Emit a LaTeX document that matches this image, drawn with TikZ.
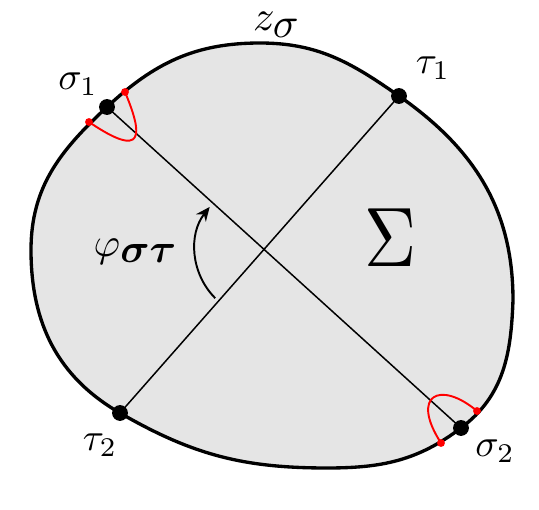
\documentclass[tikz,border=0pt]{standalone}
\usepackage{amsmath,amssymb}
\usepackage{bm}
\usetikzlibrary{arrows.meta,calc}

\tikzset{
  bdot/.style={circle,fill=black,inner sep=0pt,minimum size=9pt},
  rdot/.style={circle,fill=red,inner sep=0pt,minimum size=4.5pt},
  lbl/.style={inner sep=0pt,scale=2.2},
}

\begin{document}
\begin{tikzpicture}[x=0.02cm,y=-0.02cm]
        \useasboundingbox (0,0) rectangle (539,510);
        % the surface
        \draw[line width=1.9pt,fill=black!10] (260,43) to[out=0,in=145] (399,96)
            to[out=-35,in=90] (513,300) to[out=-92,in=37] (461,428)
            to[out=217,in=0] (327,468) to[out=180,in=-30] (120,413)
            to[out=150,in=-90] (31,250) to[out=90,in=-137] (107,107)
            to[out=43,in=180] cycle;

        \node[bdot] (S1) at (107,107) {};
        \node[bdot] (T1) at (399,96) {};
        \node[bdot] (T2) at (120,413) {};
        \node[bdot] (S2) at (461,428) {};
        \node[lbl] (LS1) at (78,84) {$\sigma_1$};
        \node[lbl] (LT1) at (433,68) {$\tau_1$};
        \node[lbl] (LT2) at (100,445) {$\tau_2$};
        \node[lbl] (LS2) at (495,451) {$\sigma_2$};

        \draw[line width=0.85pt] (S1.center) -- (S2.center);
        \draw[line width=0.85pt] (T1.center) -- (T2.center);
        \coordinate (C) at (intersection of S1--S2 and T2--T1);

        \draw[line width=1.1pt,-{Stealth[length=8pt,width=7pt]}] ([shift={(225:1.38cm)}]C) arc[start angle=225,end angle=142,radius=1.38cm];

        % red loops
        \node[rdot] (R1) at (125,92) {};
        \node[rdot] (R2) at (89,122) {};
        \node[rdot] (R3) at (477,411) {};
        \node[rdot] (R4) at (441,443) {};
        \draw[red,line width=1.1pt] (R1.center) .. controls (143,135) and (145,160) .. (R2.center);
        \draw[red,line width=1.1pt] (R3.center) .. controls (440,380) and (410,395) .. (R4.center);

        \node[lbl,scale=1.1] (Z) at (277,25) {$z_{\textstyle\sigma}$};
        \node[lbl,scale=1.05] (PHI) at (136,252) {$\varphi_{\textstyle\bm{\sigma}\bm{\tau}}$};
        \node[inner sep=0pt,xscale=4.1,yscale=4.8] (SIG) at (391,238) {$\Sigma$};

    \end{tikzpicture}
\end{document}
